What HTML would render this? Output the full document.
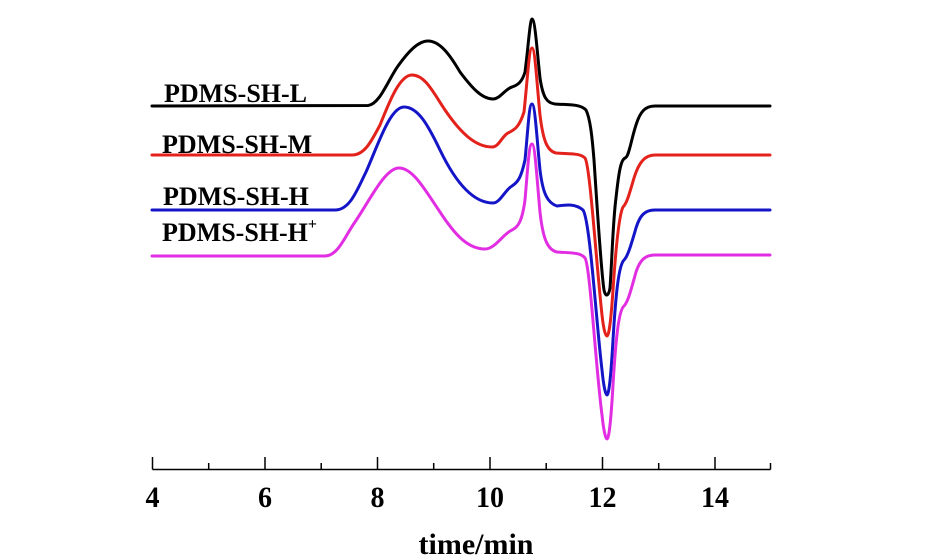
<!DOCTYPE html>
<html>
<head>
<meta charset="utf-8">
<style>
html,body{margin:0;padding:0;background:#fff;}
svg{display:block;}
text{font-family:"Liberation Serif","Times New Roman",serif;font-weight:bold;fill:#000;}
</style>
</head>
<body>
<svg width="930" height="558" viewBox="0 0 930 558" xmlns="http://www.w3.org/2000/svg">
<rect width="930" height="558" fill="#fff"/>

<!-- axis -->
<g stroke="#000" stroke-width="1.5" fill="none">
<line x1="152.5" y1="469.5" x2="770.5" y2="469.5"/>
<line x1="152.5" y1="457" x2="152.5" y2="469.5"/>
<line x1="208.7" y1="463" x2="208.7" y2="469.5"/>
<line x1="265" y1="457" x2="265" y2="469.5"/>
<line x1="321.2" y1="463" x2="321.2" y2="469.5"/>
<line x1="377.5" y1="457" x2="377.5" y2="469.5"/>
<line x1="433.7" y1="463" x2="433.7" y2="469.5"/>
<line x1="490" y1="457" x2="490" y2="469.5"/>
<line x1="546.2" y1="463" x2="546.2" y2="469.5"/>
<line x1="602.5" y1="457" x2="602.5" y2="469.5"/>
<line x1="658.7" y1="463" x2="658.7" y2="469.5"/>
<line x1="715" y1="457" x2="715" y2="469.5"/>
<line x1="770.5" y1="463" x2="770.5" y2="469.5"/>
</g>
<g font-size="30">
<text x="145.5" y="507" textLength="14" lengthAdjust="spacingAndGlyphs">4</text>
<text x="258" y="507" textLength="14" lengthAdjust="spacingAndGlyphs">6</text>
<text x="370.5" y="507" textLength="14" lengthAdjust="spacingAndGlyphs">8</text>
<text x="476" y="507" textLength="28" lengthAdjust="spacingAndGlyphs">10</text>
<text x="588.5" y="507" textLength="28" lengthAdjust="spacingAndGlyphs">12</text>
<text x="701" y="507" textLength="28" lengthAdjust="spacingAndGlyphs">14</text>
</g>
<text x="476" y="554" font-size="30" text-anchor="middle">time/min</text>

<!-- curves -->
<g fill="none" stroke-width="3" stroke-linejoin="round" stroke-linecap="round">
<!-- black -->
<path stroke="#000" d="M152,106 L368,105.5 C380,104 388,80 398,66 C408,52 418,41 428,41 C440,41 450,55 460,72 C472,88 482,99 493,99 C500,99 505,89 512,87 C518,85 522,82 525,72 C528,50 530,19 532,19 C535,19 537,50 540,78 C543,98 547,103 555,104 C570,105 580,104 586,110 C590,118 592,135 594,160 C597,205 601,270 604,290 C605.5,297 608.5,297 610,288 C612,260 613,220 616,198 C619,170 621,160 625,158 C629,157 631,140 636,125 C640,112 645,106 655,106 L770,106"/>
<!-- red -->
<path stroke="#e3221c" d="M152,155 L352,155 C365,155 372,140 380,125 C390,100 400,75 412,75 C425,75 433,92 445,110 C460,132 475,147 492,147 C499,147 502,136 508,133 C514,130 519,128 524,112 C527,85 529,48 532,48 C535,48 537,85 540,115 C543,140 547,151 556,153 C570,154 580,153 585,158 C590,165 596,260 602,315 C604,333 606,336 607,336 C609,336 611,320 613,290 C616,245 619,215 623,207 C627,203 629,195 634,178 C639,162 645,155 655,155 L770,155"/>
<!-- blue -->
<path stroke="#1515c8" d="M152,210 L335,210 C350,210 357,190 366,172 C378,145 390,107 404,107 C418,107 428,125 440,150 C452,175 470,203 493,203 C500,203 505,190 512,186 C518,182 521,178 525,160 C528,130 529,104 532,104 C535,104 537,140 540,170 C543,195 548,203 557,206 C565,205 575,203 583,210 C590,220 596,320 602,370 C604,390 606,395 607,395 C609,395 611,375 613,340 C616,290 619,265 624,260 C628,256 631,245 636,228 C640,215 645,210 655,210 L770,210"/>
<!-- magenta -->
<path stroke="#e22ee2" d="M152,256 L325,256 C338,256 345,236 355,222 C370,200 385,168 399,168 C413,168 425,190 440,212 C455,235 468,249 485,249 C495,249 503,234 512,230 C518,227 522,222 525,200 C528,165 529,144 532,144 C535,144 537,180 540,212 C543,240 548,250 557,252 C570,253 580,252 585,258 C590,265 596,370 602,415 C604,434 606,439 607,439 C609,439 611,420 613,385 C616,335 619,310 624,306 C628,302 631,290 636,272 C640,260 645,255 655,255 L770,255"/>
</g>

<!-- legend labels -->
<g font-size="26">
<text x="164" y="102">PDMS-SH-L</text>
<text x="162" y="153">PDMS-SH-M</text>
<text x="163" y="205">PDMS-SH-H</text>
<text x="162" y="241">PDMS-SH-H<tspan font-size="16" dy="-12">+</tspan></text>
</g>
</svg>
</body>
</html>
